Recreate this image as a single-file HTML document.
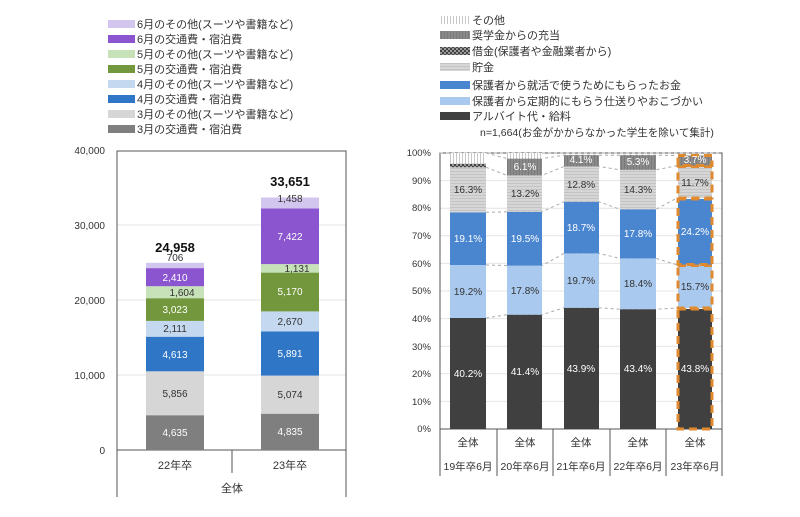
<!DOCTYPE html>
<html><head><meta charset="utf-8"><style>
body{margin:0;background:#fff;}
svg{display:block;font-family:"Liberation Sans","Noto Sans CJK JP",sans-serif;}
</style></head><body>
<svg width="800" height="517" viewBox="0 0 800 517" xmlns="http://www.w3.org/2000/svg">
<defs>
<pattern id="vl" width="3" height="4" patternUnits="userSpaceOnUse"><rect width="3" height="4" fill="#fff"/><rect width="1" height="4" fill="#c8c8c8"/></pattern>
<pattern id="hl" width="4" height="3" patternUnits="userSpaceOnUse"><rect width="4" height="3" fill="#d6d6d6"/><rect width="4" height="1" fill="#c4c4c4"/></pattern>
<pattern id="ck" width="4" height="4" patternUnits="userSpaceOnUse"><rect width="4" height="4" fill="#444"/><rect width="2" height="2" fill="#999"/><rect x="2" y="2" width="2" height="2" fill="#999"/></pattern>
<pattern id="sch" width="3" height="4" patternUnits="userSpaceOnUse"><rect width="3" height="4" fill="#8a8a8a"/><rect width="1" height="4" fill="#7a7a7a"/></pattern>
</defs>

<!-- Left legend -->
<g font-size="11" fill="#333">
<rect x="108" y="20" width="27" height="8" fill="#d3c6ee"/><text x="137" y="28">6月のその他(スーツや書籍など)</text>
<rect x="108" y="35" width="27" height="8" fill="#8a55cf"/><text x="137" y="43">6月の交通費・宿泊費</text>
<rect x="108" y="50" width="27" height="8" fill="#c7e2b9"/><text x="137" y="58">5月のその他(スーツや書籍など)</text>
<rect x="108" y="65" width="27" height="8" fill="#72973c"/><text x="137" y="73">5月の交通費・宿泊費</text>
<rect x="108" y="80" width="27" height="8" fill="#c4d9ef"/><text x="137" y="88">4月のその他(スーツや書籍など)</text>
<rect x="108" y="95" width="27" height="8" fill="#2f76c6"/><text x="137" y="103">4月の交通費・宿泊費</text>
<rect x="108" y="110" width="27" height="8" fill="#d6d6d6"/><text x="137" y="118">3月のその他(スーツや書籍など)</text>
<rect x="108" y="125" width="27" height="8" fill="#7f7f7f"/><text x="137" y="133">3月の交通費・宿泊費</text>
</g>

<!-- Left chart -->
<g stroke="#e4e4e4" stroke-width="1">
<line x1="117" y1="225" x2="346" y2="225"/><line x1="117" y1="300" x2="346" y2="300"/><line x1="117" y1="375" x2="346" y2="375"/>
</g>
<rect x="117" y="151" width="229" height="299" fill="none" stroke="#555" stroke-width="1"/>
<line x1="117" y1="450" x2="117" y2="497" stroke="#555"/>
<line x1="346" y1="450" x2="346" y2="497" stroke="#555"/>
<line x1="232" y1="450" x2="232" y2="473" stroke="#555"/>
<g font-size="10" fill="#333" text-anchor="end">
<text x="105" y="154">40,000</text><text x="105" y="229">30,000</text><text x="105" y="304">20,000</text><text x="105" y="379">10,000</text><text x="105" y="454">0</text>
</g>
<g font-size="11" fill="#333" text-anchor="middle">
<text x="175" y="469">22年卒</text><text x="290" y="469">23年卒</text><text x="232" y="492">全体</text>
</g>
<!-- bar 22 -->
<rect x="146" y="415.2" width="58" height="34.8" fill="#7f7f7f"/>
<rect x="146" y="371.3" width="58" height="43.9" fill="#d6d6d6"/>
<rect x="146" y="336.7" width="58" height="34.6" fill="#2f76c6"/>
<rect x="146" y="320.9" width="58" height="15.8" fill="#c4d9ef"/>
<rect x="146" y="298.2" width="58" height="22.7" fill="#72973c"/>
<rect x="146" y="286.2" width="58" height="12" fill="#c7e2b9"/>
<rect x="146" y="268.1" width="58" height="18.1" fill="#8a55cf"/>
<rect x="146" y="262.8" width="58" height="5.3" fill="#d3c6ee"/>
<!-- bar 23 -->
<rect x="261" y="413.7" width="58" height="36.3" fill="#7f7f7f"/>
<rect x="261" y="375.6" width="58" height="38.1" fill="#d6d6d6"/>
<rect x="261" y="331.4" width="58" height="44.2" fill="#2f76c6"/>
<rect x="261" y="311.4" width="58" height="20" fill="#c4d9ef"/>
<rect x="261" y="272.6" width="58" height="38.8" fill="#72973c"/>
<rect x="261" y="264.1" width="58" height="8.5" fill="#c7e2b9"/>
<rect x="261" y="208.4" width="58" height="55.7" fill="#8a55cf"/>
<rect x="261" y="197.5" width="58" height="10.9" fill="#d3c6ee"/>
<g font-size="10" text-anchor="middle">
<text x="175" y="436" fill="#fff">4,635</text><text x="175" y="397" fill="#333">5,856</text>
<text x="175" y="358" fill="#fff">4,613</text><text x="175" y="332" fill="#333">2,111</text>
<text x="175" y="313" fill="#fff">3,023</text><text x="182" y="296" fill="#333">1,604</text>
<text x="175" y="281" fill="#fff">2,410</text><text x="175" y="261" fill="#333">706</text>
<text x="290" y="435" fill="#fff">4,835</text><text x="290" y="398" fill="#333">5,074</text>
<text x="290" y="357" fill="#fff">5,891</text><text x="290" y="325" fill="#333">2,670</text>
<text x="290" y="295" fill="#fff">5,170</text><text x="297" y="272" fill="#333">1,131</text>
<text x="290" y="240" fill="#fff">7,422</text><text x="290" y="202" fill="#333">1,458</text>
</g>
<g font-size="13" font-weight="bold" fill="#111" text-anchor="middle">
<text x="175" y="252">24,958</text><text x="290" y="186">33,651</text>
</g>

<!-- Right legend -->
<g font-size="11" fill="#333">
<rect x="440" y="16" width="30" height="8" fill="url(#vl)"/><text x="472" y="24">その他</text>
<rect x="440" y="31" width="30" height="8" fill="url(#sch)"/><text x="472" y="39">奨学金からの充当</text>
<rect x="440" y="47" width="30" height="8" fill="url(#ck)"/><text x="472" y="55">借金(保護者や金融業者から)</text>
<rect x="440" y="63" width="30" height="8" fill="url(#hl)"/><text x="472" y="71">貯金</text>
<rect x="440" y="81" width="30" height="8" fill="#4a86d0"/><text x="472" y="89">保護者から就活で使うためにもらったお金</text>
<rect x="440" y="97" width="30" height="8" fill="#a9c9ee"/><text x="472" y="105">保護者から定期的にもらう仕送りやおこづかい</text>
<rect x="440" y="112" width="30" height="8" fill="#404040"/><text x="472" y="120">アルバイト代・給料</text>
<text x="480" y="136" font-size="10.5">n=1,664(お金がかからなかった学生を除いて集計)</text>
</g>

<!-- Right chart -->
<g stroke="#e4e4e4">
<line x1="440" y1="180.6" x2="722" y2="180.6"/><line x1="440" y1="208.2" x2="722" y2="208.2"/><line x1="440" y1="235.8" x2="722" y2="235.8"/><line x1="440" y1="263.4" x2="722" y2="263.4"/><line x1="440" y1="291" x2="722" y2="291"/><line x1="440" y1="318.6" x2="722" y2="318.6"/><line x1="440" y1="346.2" x2="722" y2="346.2"/><line x1="440" y1="373.8" x2="722" y2="373.8"/><line x1="440" y1="401.4" x2="722" y2="401.4"/>
</g>
<rect x="440" y="153" width="282" height="276" fill="none" stroke="#555"/>
<g stroke="#555"><line x1="440" y1="429" x2="440" y2="476"/><line x1="497" y1="429" x2="497" y2="476"/><line x1="553" y1="429" x2="553" y2="476"/><line x1="610" y1="429" x2="610" y2="476"/><line x1="666" y1="429" x2="666" y2="476"/><line x1="722" y1="429" x2="722" y2="476"/></g>
<g font-size="9.5" fill="#333" text-anchor="end">
<text x="431" y="156">100%</text><text x="431" y="184">90%</text><text x="431" y="211">80%</text><text x="431" y="239">70%</text><text x="431" y="267">60%</text><text x="431" y="294">50%</text><text x="431" y="322">40%</text><text x="431" y="350">30%</text><text x="431" y="377">20%</text><text x="431" y="405">10%</text><text x="431" y="432">0%</text>
</g>
<g font-size="10.5" fill="#333" text-anchor="middle">
<text x="468" y="446">全体</text><text x="525" y="446">全体</text><text x="581" y="446">全体</text><text x="638" y="446">全体</text><text x="695" y="446">全体</text>
<text x="468" y="470">19年卒6月</text><text x="525" y="470">20年卒6月</text><text x="581" y="470">21年卒6月</text><text x="638" y="470">22年卒6月</text><text x="695" y="470">23年卒6月</text>
</g>
<!-- connectors -->
<g stroke="#aaa" stroke-dasharray="3,3" fill="none">
<polyline points="486,318 507,314.7 542,314.7 564,307.8 599,307.8 620,309.2 656,309.2 677,308.1"/>
<polyline points="486,265 507,265.6 542,265.6 564,253.4 599,253.4 620,258.4 656,258.4 677,264.8"/>
<polyline points="486,212.3 507,211.8 542,211.8 564,201.8 599,201.8 620,209.3 656,209.3 677,198"/>
<polyline points="486,167.3 507,175.4 542,175.4 564,166.5 599,166.5 620,169.8 656,169.8 677,165.7"/>
<polyline points="486,153 507,158.6 542,158.6 564,155.2 599,155.2 620,155.2 656,155.2 677,155.5"/>
<line x1="440" y1="153" x2="722" y2="153"/>
</g>
<!-- 19 -->
<rect x="450" y="318" width="36" height="111" fill="#404040"/>
<rect x="450" y="265" width="36" height="53" fill="#a9c9ee"/>
<rect x="450" y="212.3" width="36" height="52.7" fill="#4a86d0"/>
<rect x="450" y="167.3" width="36" height="45" fill="url(#hl)"/>
<rect x="450" y="163.7" width="36" height="3.6" fill="url(#ck)"/>
<rect x="450" y="153" width="36" height="10.7" fill="url(#vl)"/>
<!-- 20 -->
<rect x="507" y="314.7" width="35" height="114.3" fill="#404040"/>
<rect x="507" y="265.6" width="35" height="49.1" fill="#a9c9ee"/>
<rect x="507" y="211.8" width="35" height="53.8" fill="#4a86d0"/>
<rect x="507" y="175.4" width="35" height="36.4" fill="url(#hl)"/>
<rect x="507" y="158.6" width="35" height="16.8" fill="url(#sch)"/>
<rect x="507" y="153" width="35" height="5.6" fill="url(#vl)"/>
<!-- 21 -->
<rect x="564" y="307.8" width="35" height="121.2" fill="#404040"/>
<rect x="564" y="253.4" width="35" height="54.4" fill="#a9c9ee"/>
<rect x="564" y="201.8" width="35" height="51.6" fill="#4a86d0"/>
<rect x="564" y="166.5" width="35" height="35.3" fill="url(#hl)"/>
<rect x="564" y="155.2" width="35" height="11.3" fill="url(#sch)"/>
<!-- 22 -->
<rect x="620" y="309.2" width="36" height="119.8" fill="#404040"/>
<rect x="620" y="258.4" width="36" height="50.8" fill="#a9c9ee"/>
<rect x="620" y="209.3" width="36" height="49.1" fill="#4a86d0"/>
<rect x="620" y="169.8" width="36" height="39.5" fill="url(#hl)"/>
<rect x="620" y="155.2" width="36" height="14.6" fill="url(#sch)"/>
<!-- 23 -->
<g stroke="#e08a30" stroke-width="3" stroke-dasharray="8,5">
<rect x="678" y="309" width="34" height="120" fill="#404040"/>
<rect x="678" y="265.5" width="34" height="42.5" fill="#a9c9ee"/>
<rect x="678" y="199" width="34" height="65.5" fill="#4a86d0"/>
<rect x="678" y="166.5" width="34" height="31.5" fill="url(#hl)"/>
<rect x="678" y="155.5" width="34" height="10" fill="url(#sch)"/>
</g>
<g font-size="10" text-anchor="middle">
<text x="468" y="377" fill="#fff">40.2%</text><text x="525" y="375" fill="#fff">41.4%</text><text x="581" y="372" fill="#fff">43.9%</text><text x="638" y="372" fill="#fff">43.4%</text><text x="695" y="372" fill="#fff">43.8%</text>
<text x="468" y="295" fill="#333">19.2%</text><text x="525" y="294" fill="#333">17.8%</text><text x="581" y="284" fill="#333">19.7%</text><text x="638" y="287" fill="#333">18.4%</text><text x="695" y="290" fill="#333">15.7%</text>
<text x="468" y="242" fill="#fff">19.1%</text><text x="525" y="242" fill="#fff">19.5%</text><text x="581" y="231" fill="#fff">18.7%</text><text x="638" y="237" fill="#fff">17.8%</text><text x="695" y="235" fill="#fff">24.2%</text>
<text x="468" y="193" fill="#333">16.3%</text><text x="525" y="197" fill="#333">13.2%</text><text x="581" y="188" fill="#333">12.8%</text><text x="638" y="193" fill="#333">14.3%</text><text x="695" y="186" fill="#333">11.7%</text>
<text x="525" y="170" fill="#fff">6.1%</text><text x="581" y="163" fill="#fff">4.1%</text><text x="638" y="165" fill="#fff">5.3%</text><text x="695" y="163" fill="#fff">3.7%</text>
</g>
</svg>
</body></html>
